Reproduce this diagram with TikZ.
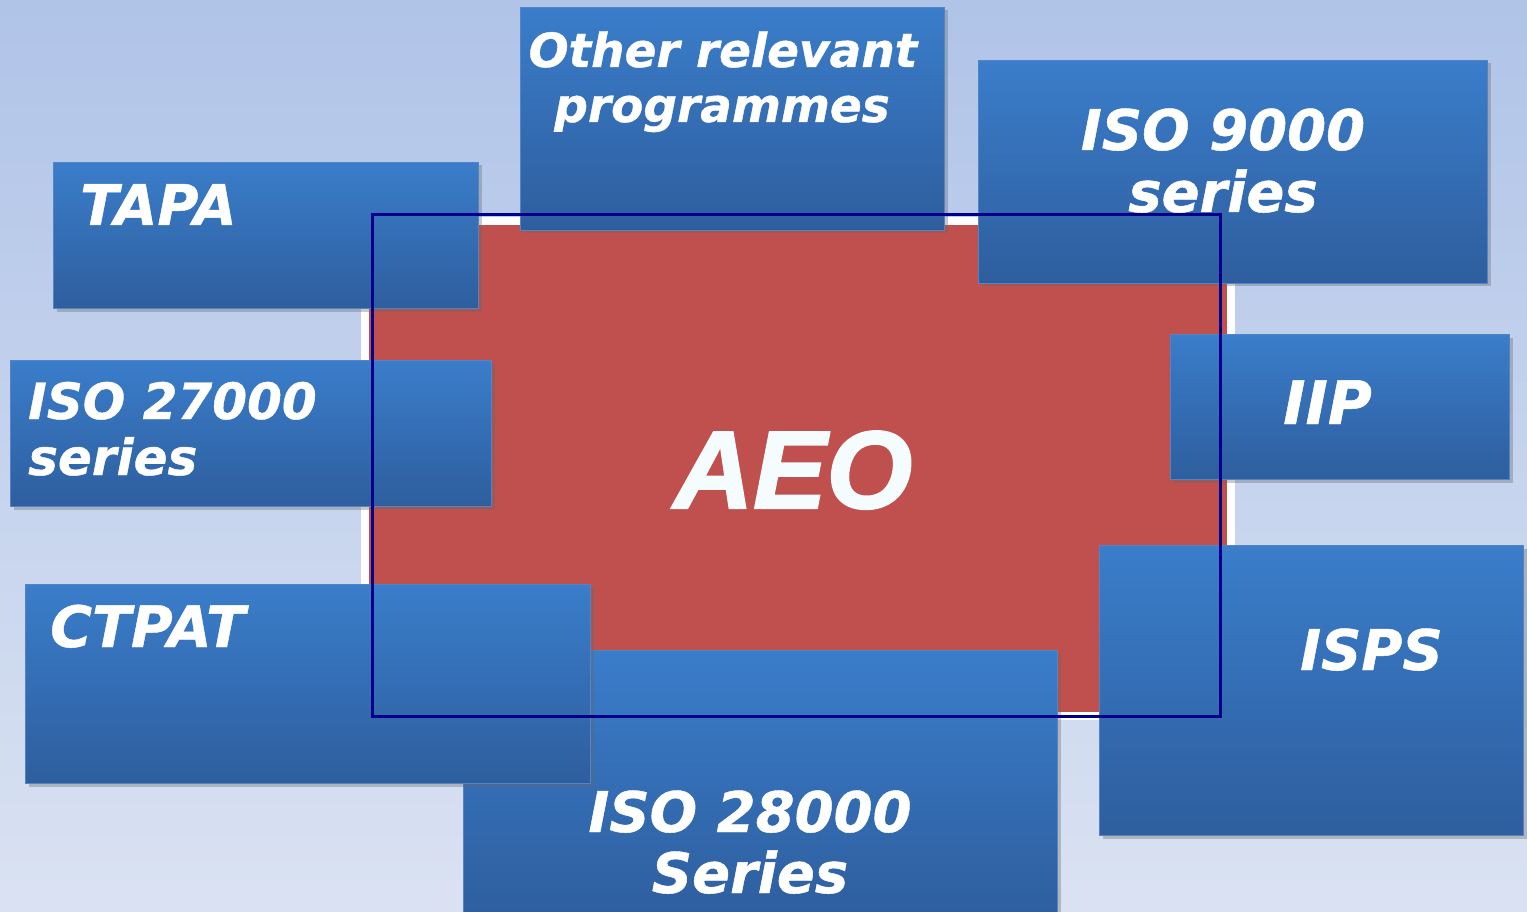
\documentclass[tikz,border=0pt]{standalone}
\usepackage{fontspec}
\usetikzlibrary{shadows}
\newfontfamily\progfont[BoldItalicFont={DejaVu Sans Bold Oblique},BoldItalicFeatures={FakeBold=0.8}]{DejaVu Sans}
\newfontfamily\aeofont[BoldItalicFont={Liberation Sans Bold Italic},BoldItalicFeatures={FakeBold=2}]{Liberation Sans}
\definecolor{bgtop}{RGB}{176,196,232}
\definecolor{bgbot}{RGB}{218,226,242}
\definecolor{boxtop}{RGB}{58,125,202}
\definecolor{boxbot}{RGB}{46,94,158}
\definecolor{boxline}{RGB}{84,132,196}
\definecolor{aeored}{RGB}{192,80,77}
\definecolor{frame}{RGB}{0,0,139}
\tikzset{
  progbox/.style={rectangle, anchor=north west, inner sep=0pt, draw=boxline, line width=1pt,
    top color=boxtop, bottom color=boxbot,
    drop shadow={shadow xshift=3pt, shadow yshift=-3pt, opacity=0.35, fill=black!60}},
  progtext/.style={text=white, inner sep=0pt, font=\progfont\bfseries\itshape\fontsize{#1}{#1}\selectfont},
  progtext/.default=56
}
\begin{document}
\begin{tikzpicture}[x=1pt,y=-1pt]
    %% background
    \useasboundingbox (0,0) rectangle (1527,912);
    \shade[top color=bgtop, bottom color=bgbot] (0,0) rectangle (1527,912);
    %% centre
    \node[rectangle, anchor=north west, inner sep=0pt, fill=aeored, draw=white, line width=8pt,
        minimum width=866pt, minimum height=495pt] (aeo) at (361,217) {};
    \node[text=cyan!4!white, inner sep=0pt, anchor=base,
        font=\aeofont\bfseries\itshape\fontsize{110}{110}\selectfont] (aeolabel) at (793,508) {AEO};
    %% programmes
    \node[progbox, minimum width=594pt, minimum height=270pt] (iso28k) at (463,650) {};
    \node[progtext, anchor=base] (iso28ka) at (750,832) {ISO 28000};
    \node[progtext, anchor=base] (iso28kb) at (750,893) {Series};
    \node[progbox, minimum width=565pt, minimum height=199pt] (ctpat) at (25,584) {};
    \node[progtext=57, anchor=base west] (ctpatlabel) at (50,647) {CTPAT};
    \node[progbox, minimum width=425pt, minimum height=146pt] (tapa) at (53,162) {};
    \node[progtext, anchor=base west] (tapalabel) at (80,225) {TAPA};
    \node[progbox, minimum width=481pt, minimum height=146pt] (iso27k) at (10,360) {};
    \node[progtext=50, anchor=base west] (iso27ka) at (28,419) {ISO 27000};
    \node[progtext=50, anchor=base west] (iso27kb) at (28,475) {series};
    \node[progbox, minimum width=424pt, minimum height=223pt] (other) at (520,7) {};
    \node[progtext=47, anchor=base] (othera) at (723,67) {Other relevant};
    \node[progtext=47, anchor=base] (otherb) at (722,122) {programmes};
    \node[progbox, minimum width=509pt, minimum height=223pt] (iso9k) at (978,60) {};
    \node[progtext, anchor=base] (iso9ka) at (1223,150) {ISO 9000};
    \node[progtext, anchor=base] (iso9kb) at (1223,212) {series};
    \node[progbox, minimum width=339pt, minimum height=145pt] (iip) at (1170,334) {};
    \node[progtext=60, anchor=base west] (iiplabel) at (1283,424) {IIP};
    \node[progbox, minimum width=424pt, minimum height=290pt] (isps) at (1099,545) {};
    \node[progtext=56, anchor=base west] (ispslabel) at (1300,670) {ISPS};
    %% frame on top
    \draw[frame, line width=3pt] (372,215) rectangle (1220,716);
\end{tikzpicture}
\end{document}
